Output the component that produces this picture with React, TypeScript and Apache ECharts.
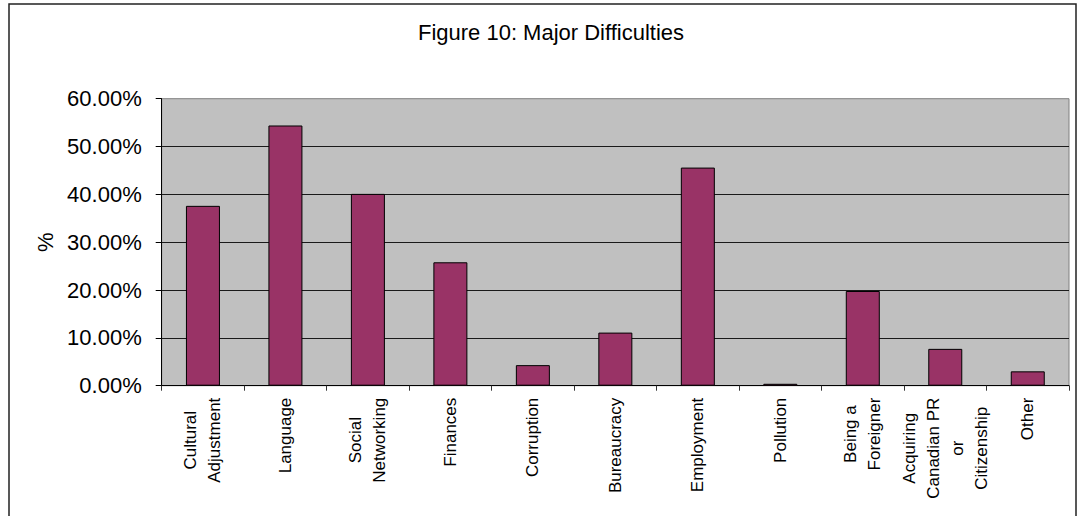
import React, { useEffect, useRef } from "react";
import * as echarts from "echarts";

const categories = [
  "Cultural\nAdjustment",
  "Language",
  "Social\nNetworking",
  "Finances",
  "Corruption",
  "Bureaucracy",
  "Employment",
  "Pollution",
  "Being a\nForeigner",
  "Acquiring\nCanadian PR\nor\nCitizenship",
  "Other",
];
const values = [37.6, 54.4, 40.1, 25.8, 4.3, 11.1, 45.6, 0.4, 19.8, 7.7, 3.0];
const yMin = 0;
const yMax = 60;
const yInterval = 10;
const titleText = "Figure 10: Major Difficulties";
const yAxisName = "%";

const FONT = "'Liberation Sans', Arial, sans-serif";

export default function App() {
  const ref = useRef<HTMLDivElement>(null);
  useEffect(() => {
    if (!ref.current) return;
    const chart = echarts.init(ref.current, undefined, { renderer: "svg" });
    chart.setOption({
      animation: false,
      backgroundColor: "#ffffff",
      textStyle: { fontFamily: FONT, color: "#000" },
      graphic: [
        {
          type: "rect",
          shape: { x: 9, y: 4, width: 1067, height: 530 },
          style: { fill: "none", stroke: "#222", lineWidth: 1.5 },
          silent: true,
          z: 0,
        },
        {
          type: "text",
          x: 551,
          y: 32.5,
          style: {
            text: titleText,
            fontFamily: FONT,
            fontSize: 22,
            fill: "#000",
            textAlign: "center",
            textVerticalAlign: "middle",
          },
        },
      ],
      grid: {
        left: 161.7,
        top: 98.7,
        right: 14,
        bottom: 130.3,
        show: true,
        backgroundColor: "#C0C0C0",
        borderColor: "#808080",
        borderWidth: 1,
      },
      xAxis: {
        type: "category",
        data: categories,
        axisLine: { show: true, lineStyle: { color: "#000", width: 1 } },
        axisTick: {
          show: true,
          interval: 0,
          length: 5,
          lineStyle: { color: "#333" },
        },
        axisLabel: {
          interval: 0,
          rotate: 90,
          margin: 12,
          color: "#000",
          fontFamily: FONT,
          fontSize: 17,
          lineHeight: 24,
          formatter: (v: string) => `{c|${v}}`,
          rich: {
            c: {
              align: "center",
              fontFamily: FONT,
              fontSize: 17,
              lineHeight: 24,
              color: "#000",
            },
          },
        },
        splitLine: { show: false },
      },
      yAxis: {
        type: "value",
        min: yMin,
        max: yMax,
        interval: yInterval,
        name: yAxisName,
        nameLocation: "middle",
        nameRotate: 90,
        nameGap: 104,
        nameTextStyle: { fontFamily: FONT, fontSize: 22, color: "#000" },
        axisLine: { show: true, lineStyle: { color: "#000", width: 1 } },
        axisTick: { show: true, length: 6, lineStyle: { color: "#000" } },
        axisLabel: {
          margin: 20,
          fontFamily: FONT,
          fontSize: 22,
          color: "#000",
          formatter: (v: number) => v.toFixed(2) + "%",
        },
        splitLine: {
          show: true,
          showMaxLine: false,
          lineStyle: { color: "#1a1a1a", width: 1 },
        },
      },
      series: [
        {
          type: "bar",
          data: values,
          barWidth: 34,
          itemStyle: {
            color: "#993366",
            borderColor: "#000",
            borderWidth: 1,
          },
        },
      ],
    });
    return () => chart.dispose();
  }, []);
  return (
    <div
      ref={ref}
      style={{ position: "absolute", left: 0, top: 0, width: 1083, height: 516 }}
    />
  );
}
